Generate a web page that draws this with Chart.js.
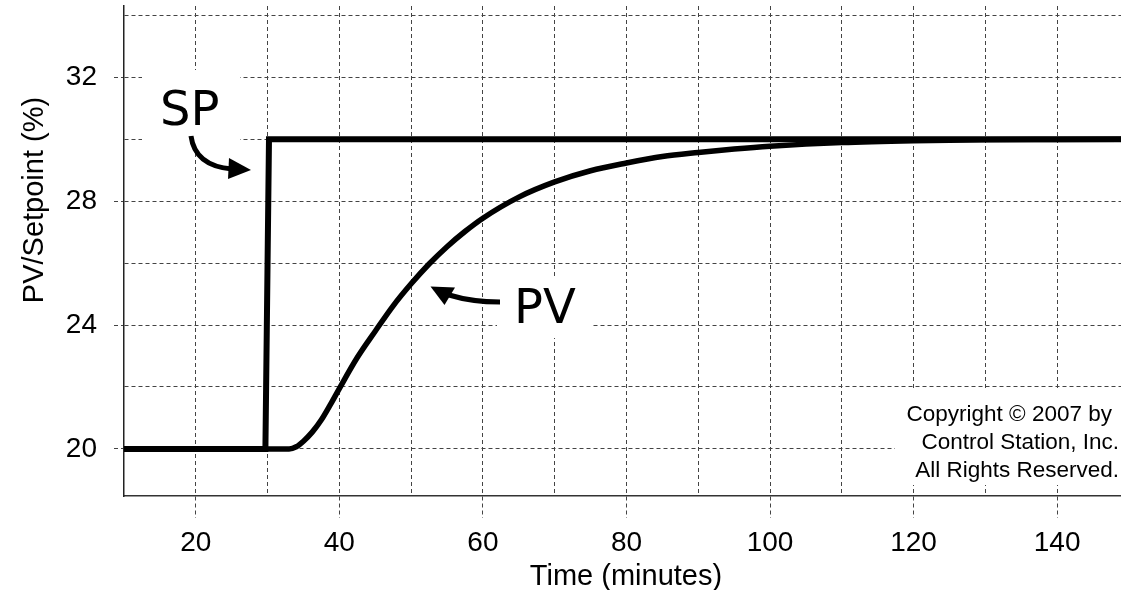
<!DOCTYPE html>
<html><head><meta charset="utf-8">
<script src="https://cdn.jsdelivr.net/npm/chart.js@4.4.1/dist/chart.umd.min.js"></script>
<style>html,body{margin:0;padding:0;background:#fff;overflow:hidden}#wrap{position:relative;width:1121px;height:590px}</style>
</head><body><div id="wrap"><canvas id="c" width="1121" height="590"></canvas></div>
<script>
// ---- data ----
const spTime  = [10, 29.7, 30.2, 148.9];
const spValue = [20, 20, 30, 30];
const pvTime  = [10, 33, 34, 35, 36.25, 37.5, 38.75, 40, 42.5, 45, 47.5, 50, 52.5, 55, 57.5, 60, 65, 70, 75, 80, 85, 90, 95, 100, 110, 120, 130, 140, 148.9];
const pvValue = [20, 20, 20.07, 20.25, 20.55, 20.94, 21.43, 21.95, 22.95, 23.8, 24.62, 25.33, 25.97, 26.53, 27.02, 27.45, 28.13, 28.62, 28.98, 29.23, 29.44, 29.57, 29.68, 29.77, 29.89, 29.95, 29.98, 29.99, 30.0];
const xTicks  = [20, 30, 40, 50, 60, 70, 80, 90, 100, 110, 120, 130, 140];
const xLabels = [20, 40, 60, 80, 100, 120, 140];
const yTicks  = [20, 22, 24, 26, 28, 30, 32, 34];
const yLabels = [20, 24, 28, 32];
const xTitle = 'Time (minutes)';
const yTitle = 'PV/Setpoint (%)';
const spText = 'SP';
const pvText = 'PV';
const copyrightLines = ['Copyright \u00A9 2007 by', 'Control Station, Inc.', 'All Rights Reserved.'];

const toXY = (xs, ys) => xs.map((x, i) => ({x, y: ys[i]}));
const FONT = "'Liberation Sans', Arial, sans-serif";
const GRID = '#444';

const annot = {
  id: 'annot',
  beforeDatasetsDraw(chart) {
    const c = chart.ctx;
    c.save();
    c.fillStyle = '#fff';
    c.fillRect(142, 70, 98, 80);
    c.fillRect(497, 277, 96, 61);
    c.fillRect(895, 390, 226, 95);
    c.fillStyle = '#000';
    c.font = "22.5px " + FONT;
    c.textAlign = 'right';
    c.textBaseline = 'alphabetic';
    c.fillText(copyrightLines[0], 1112, 421);
    c.fillText(copyrightLines[1], 1119, 449);
    c.fillText(copyrightLines[2], 1119, 477);
    c.font = "48px 'DejaVu Sans', sans-serif";
    c.textAlign = 'left';
    c.fillText(spText, 160, 125);
    c.fillText(pvText, 514, 323);
    // arrows
    c.strokeStyle = '#000';
    c.lineWidth = 5;
    c.lineCap = 'butt';
    c.beginPath();
    c.moveTo(191, 136);
    c.quadraticCurveTo(195, 166, 232, 169);
    c.stroke();
    c.beginPath();
    c.moveTo(251, 170); c.lineTo(229, 158); c.lineTo(228, 179); c.closePath(); c.fill();
    c.beginPath();
    c.moveTo(500, 302);
    c.quadraticCurveTo(472, 302, 449, 295);
    c.stroke();
    c.beginPath();
    c.moveTo(430.5, 286.5); c.lineTo(455, 287.5); c.lineTo(444.5, 305); c.closePath(); c.fill();
    // axis titles
    c.font = "29px " + FONT;
    c.textAlign = 'center';
    c.fillText(xTitle, 626, 585);
    c.translate(43, 200);
    c.rotate(-Math.PI / 2);
    c.fillText(yTitle, 0, 0);
    c.restore();
  }
};

new Chart(document.getElementById('c'), {
  type: 'line',
  data: {
    datasets: [
      {label: 'SP', data: toXY(spTime, spValue), borderColor: '#000', borderWidth: 6, pointRadius: 0, tension: 0, fill: false},
      {label: 'PV', data: toXY(pvTime, pvValue), borderColor: '#000', borderWidth: 5.5, pointRadius: 0, cubicInterpolationMode: 'monotone', fill: false}
    ]
  },
  options: {
    responsive: false,
    devicePixelRatio: 1,
    animation: false,
    layout: {padding: {top: 6, right: 0, bottom: 0, left: 0}},
    plugins: {legend: {display: false}, tooltip: {enabled: false}},
    scales: {
      x: {
        type: 'linear', min: 10, max: 148.9,
        afterBuildTicks: s => { s.ticks = xTicks.map(v => ({value: v})); },
        afterFit: s => { s.height = 94; s.paddingLeft = 0; s.paddingRight = 0; },
        ticks: {
          callback: v => xLabels.includes(v) ? String(v) : '',
          font: {family: FONT, size: 28}, color: '#000', padding: 8, maxRotation: 0, autoSkip: false
        },
        grid: {
          color: GRID, lineWidth: 1, tickLength: 22, tickWidth: 1,
          tickColor: ctx => (ctx.tick && xLabels.includes(ctx.tick.value)) ? GRID : 'rgba(0,0,0,0)',
          tickBorderDash: [4, 3]
        },
        border: {color: '#333', width: 1.5, dash: [4, 3]}
      },
      y: {
        type: 'linear', min: 18.48, max: 34.3,
        afterBuildTicks: s => { s.ticks = yTicks.map(v => ({value: v})); },
        afterFit: s => { s.width = 124; s.paddingTop = 0; s.paddingBottom = 0; },
        ticks: {
          callback: v => yLabels.includes(v) ? String(v) : '',
          font: {family: FONT, size: 28}, color: '#000', padding: 17, autoSkip: false
        },
        grid: {
          color: GRID, lineWidth: 1, tickLength: 10, tickWidth: 1,
          tickColor: ctx => (ctx.tick && yLabels.includes(ctx.tick.value)) ? GRID : 'rgba(0,0,0,0)',
          tickBorderDash: [4, 3]
        },
        border: {color: '#222', width: 1.5, dash: [4, 3]}
      }
    }
  },
  plugins: [annot]
});
</script>
</body></html>
